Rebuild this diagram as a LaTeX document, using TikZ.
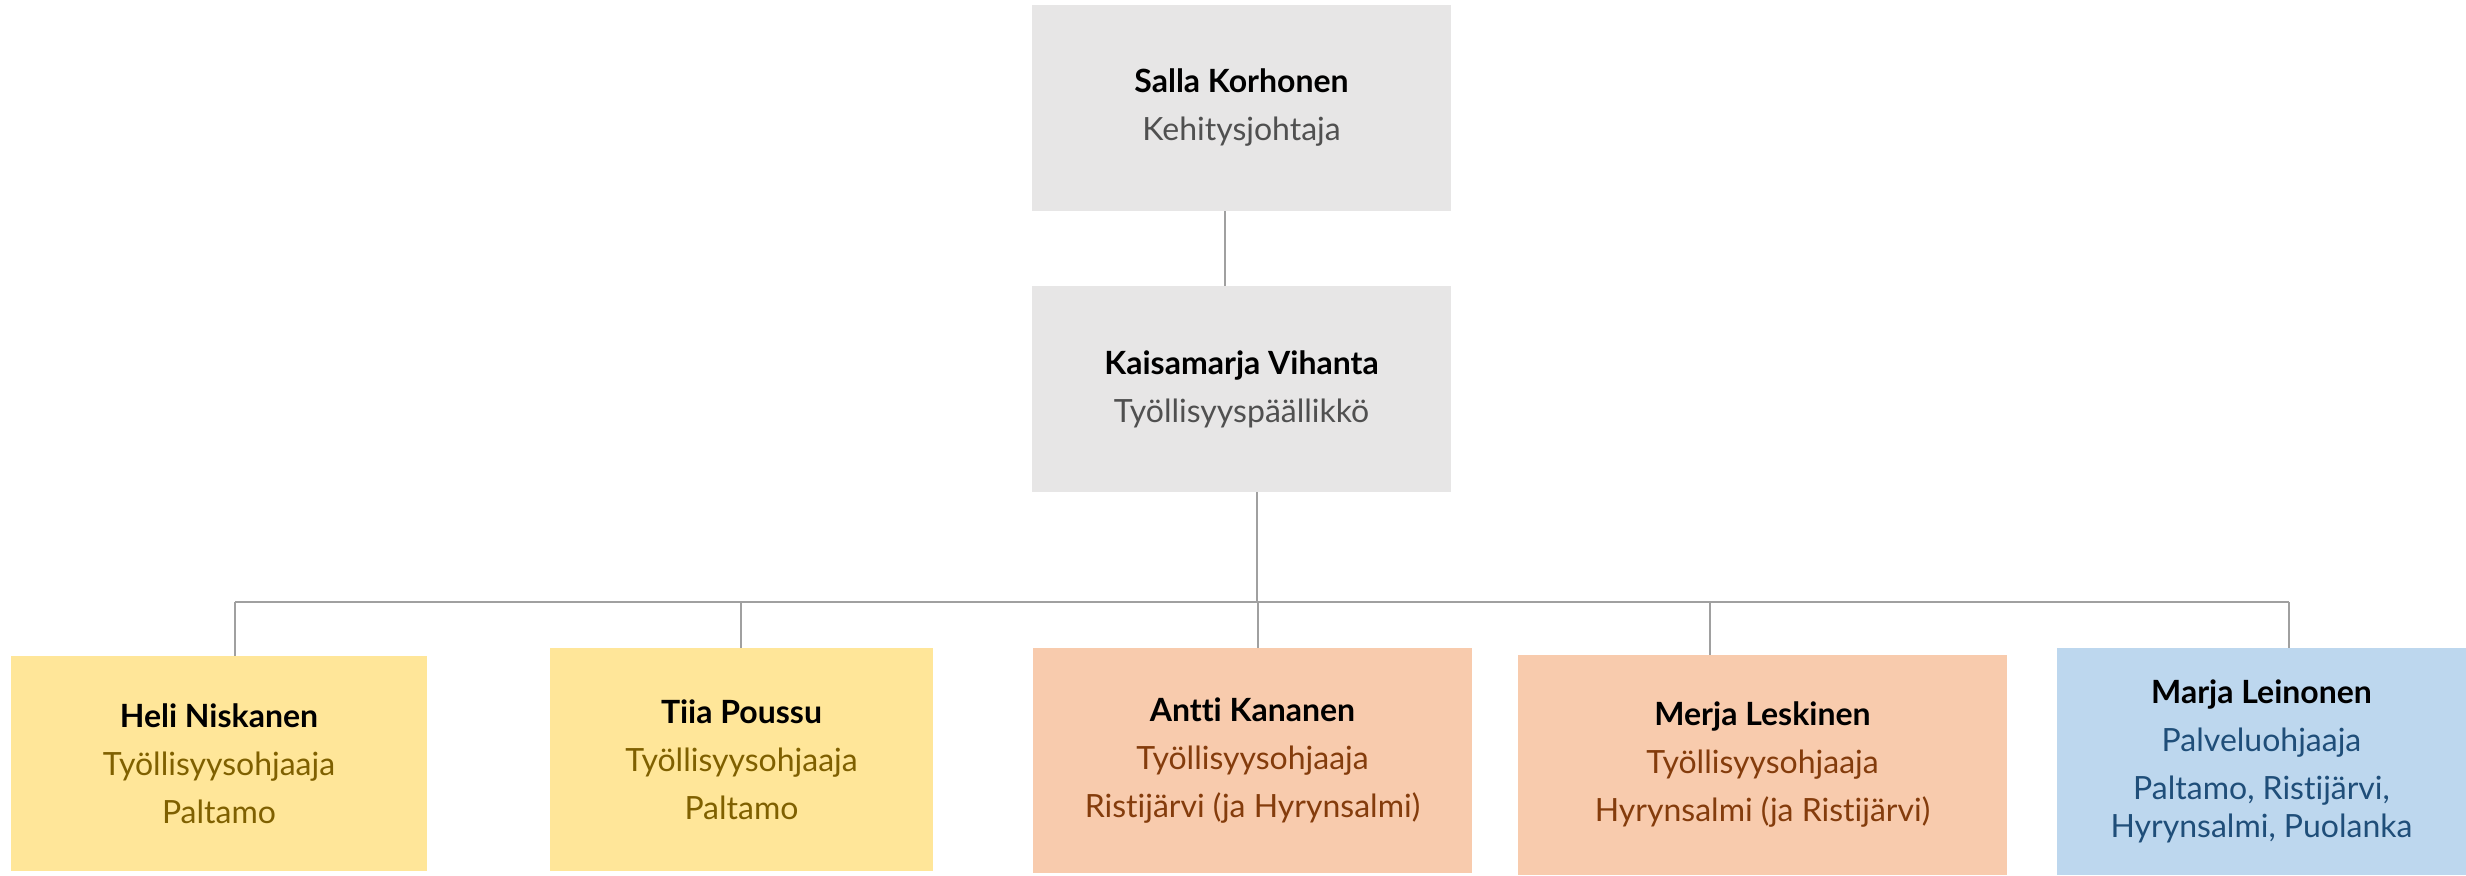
\documentclass[tikz,border=0pt]{standalone}
\usepackage{fontspec}
\setmainfont{Lato}[Ligatures=NoCommon]
\usepackage{tikz}
\usetikzlibrary{calc}
\definecolor{boxgray}{HTML}{E7E6E6}
\definecolor{boxyellow}{HTML}{FFE699}
\definecolor{boxorange}{HTML}{F8CBAD}
\definecolor{boxblue}{HTML}{BDD7EE}
\definecolor{txtgray}{HTML}{505050}
\definecolor{txtyellow}{HTML}{7F6000}
\definecolor{txtorange}{HTML}{843C0C}
\definecolor{txtblue}{HTML}{1F4E79}
\definecolor{linegray}{HTML}{A0A0A0}
\tikzset{
  person/.style = {rectangle, inner sep=0pt, align=center,
    font=\fontsize{16}{24}\selectfont},
  chief/.style = {person, fill=boxgray, text=txtgray,
    minimum width=209.5pt, minimum height=103pt},
  link/.style = {draw=linegray, line width=0.75pt}
}
\newcommand{\who}[1]{\textcolor{black}{\bfseries #1}}

\begin{document}
\begin{tikzpicture}[x=0.5pt, y=-0.5pt]
\useasboundingbox (0,0) rectangle (2466,875);
% top of the chart
\node[chief] (salla) at (1241.5,108) {\who{Salla Korhonen}\\Kehitysjohtaja};
\node[chief] (kaisa) at (1241.5,389) {\who{Kaisamarja Vihanta}\\Työllisyyspäällikkö};
% the team
\node[person, fill=boxyellow, text=txtyellow, minimum width=208pt, minimum height=107.5pt]
  (heli) at (219,763.5) {\who{Heli Niskanen}\\Työllisyysohjaaja\\Paltamo};
\node[person, fill=boxyellow, text=txtyellow, minimum width=191.5pt, minimum height=111.5pt]
  (tiia) at (741.5,759.5) {\who{Tiia Poussu}\\Työllisyysohjaaja\\Paltamo};
\node[person, fill=boxorange, text=txtorange, minimum width=219.5pt, minimum height=112.5pt]
  (antti) at (1252.5,760.5) {\who{Antti Kananen}\\Työllisyysohjaaja\\Ristijärvi (ja Hyrynsalmi)};
\node[person, fill=boxorange, text=txtorange, minimum width=244.5pt, minimum height=110pt]
  (merja) at (1762.5,765) {\who{Merja Leskinen}\\Työllisyysohjaaja\\Hyrynsalmi (ja Ristijärvi)};
\node[person, fill=boxblue, text=txtblue, minimum width=204.5pt, minimum height=113.5pt]
  (marja) at (2261.5,761.5) {\who{Marja Leinonen}\\Palveluohjaaja\\Paltamo, Ristijärvi,\\[-5pt]Hyrynsalmi, Puolanka};
% connectors
\coordinate (bus) at (1257,602);
\draw[link] ([xshift=-8.25pt]salla.south) -- ([xshift=-8.25pt]kaisa.north);
\draw[link] (kaisa.south -| bus) -- (bus);
\coordinate (d1) at (235,602);
\coordinate (d2) at (741,602);
\coordinate (d3) at (1258,602);
\coordinate (d4) at (1710,602);
\coordinate (d5) at (2289,602);
\draw[link] (d1) -- (d5);
\foreach \d/\b in {d1/heli, d2/tiia, d3/antti, d4/merja, d5/marja}
  \draw[link] (\d) -- (\d |- \b.north);
\end{tikzpicture}
\end{document}
